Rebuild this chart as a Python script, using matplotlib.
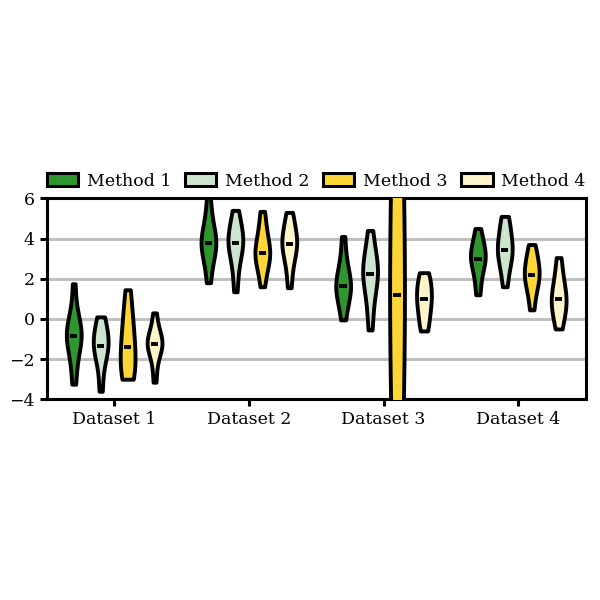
import numpy as np
import matplotlib
matplotlib.use("Agg")
import matplotlib.pyplot as plt
from matplotlib.patches import Patch

plt.rcParams['font.family'] = ['DejaVu Serif']
plt.rcParams['font.size'] = 12.5

datasets = ['Dataset 1', 'Dataset 2', 'Dataset 3', 'Dataset 4']
methods = ['Method 1', 'Method 2', 'Method 3', 'Method 4']
colors = ['#2f962f', '#cde5cf', '#fbd636', '#fdf4ca']

# samples per dataset, per method
d1_m1 = [-3.25, -2.4, -1.6, -1.1, -0.9, -0.85, -0.8, -0.5, -0.2, 0.3, 1.75]
d1_m2 = [-3.6, -2.6, -1.9, -1.6, -1.4, -1.35, -1.1, -0.8, -0.5, -0.2, 0.1]
d1_m3 = [-3.0, -2.9, -2.6, -2.2, -1.8, -1.4, -1.0, -0.6, 0.0, 0.6, 1.45]
d1_m4 = [-3.15, -2.3, -1.7, -1.4, -1.3, -1.25, -1.2, -1.0, -0.8, -0.4, 0.3]

d2_m1 = [1.8, 2.6, 3.2, 3.5, 3.7, 3.8, 3.9, 4.2, 4.6, 5.2, 6.1]
d2_m2 = [1.35, 2.3, 3.0, 3.4, 3.7, 3.8, 3.9, 4.2, 4.5, 4.9, 5.4]
d2_m3 = [1.6, 2.3, 2.8, 3.0, 3.2, 3.3, 3.5, 3.8, 4.2, 4.7, 5.35]
d2_m4 = [1.55, 2.4, 3.0, 3.4, 3.6, 3.75, 3.9, 4.1, 4.5, 4.9, 5.3]

d3_m1 = [-0.05, 0.6, 1.1, 1.4, 1.55, 1.65, 1.8, 2.1, 2.5, 3.1, 4.1]
d3_m2 = [-0.55, 0.4, 1.2, 1.8, 2.1, 2.25, 2.4, 2.7, 3.1, 3.6, 4.4]
d3_m3 = [-11, -8, -5, -2.5, -0.5, 1.2, 2.8, 5, 7.5, 10, 13]
d3_m4 = [-0.6, -0.3, 0.1, 0.5, 0.8, 1.0, 1.2, 1.5, 1.8, 2.1, 2.3]

d4_m1 = [1.2, 1.8, 2.4, 2.8, 2.95, 3.0, 3.2, 3.4, 3.7, 4.0, 4.5]
d4_m2 = [1.6, 2.3, 2.8, 3.1, 3.35, 3.45, 3.7, 4.0, 4.4, 4.8, 5.1]
d4_m3 = [0.45, 1.1, 1.6, 1.9, 2.1, 2.2, 2.4, 2.7, 3.0, 3.3, 3.7]
d4_m4 = [-0.5, -0.1, 0.3, 0.6, 0.85, 1.0, 1.2, 1.5, 1.9, 2.4, 3.05]

data = [
    [d1_m1, d1_m2, d1_m3, d1_m4],
    [d2_m1, d2_m2, d2_m3, d2_m4],
    [d3_m1, d3_m2, d3_m3, d3_m4],
    [d4_m1, d4_m2, d4_m3, d4_m4],
]

offsets = [-0.3, -0.1, 0.1, 0.3]

fig = plt.figure(figsize=(6, 6), dpi=100)
ax = fig.add_axes([0.078, 0.3345, 0.898, 0.335])

for j in range(len(methods)):
    vals = [data[i][j] for i in range(len(datasets))]
    pos = [i + 1 + offsets[j] for i in range(len(datasets))]
    parts = ax.violinplot(vals, positions=pos, widths=0.11,
                          showextrema=False, showmedians=True)
    for body in parts['bodies']:
        body.set_facecolor(colors[j])
        body.set_edgecolor('black')
        body.set_linewidth(2.8)
        body.set_joinstyle('round')
        body.set_alpha(1)
        body.set_zorder(3)
    parts['cmedians'].set_color('black')
    parts['cmedians'].set_linewidth(2.8)
    parts['cmedians'].set_zorder(4)

ax.set_xlim(0.5, 4.5)
ax.set_ylim(-4, 6)
ax.set_xticks(range(1, 5))
ax.set_xticklabels(datasets)
ax.set_yticks([-4, -2, 0, 2, 4, 6])
ax.yaxis.grid(True, color='#c0c0c0', linewidth=2.2)
ax.set_axisbelow(True)
for sp in ax.spines.values():
    sp.set_linewidth(2.2)
ax.tick_params(width=2.2, length=5)

handles = [Patch(facecolor=c, edgecolor='black', linewidth=2.2, label=m)
           for c, m in zip(colors, methods)]
ax.legend(handles=handles, ncol=4, loc='lower center',
          bbox_to_anchor=(0.5, 1.0), frameon=False,
          handlelength=1.8, handleheight=0.7, columnspacing=0.8,
          handletextpad=0.5, borderaxespad=0.1)

fig.savefig('out.png', dpi=100)
